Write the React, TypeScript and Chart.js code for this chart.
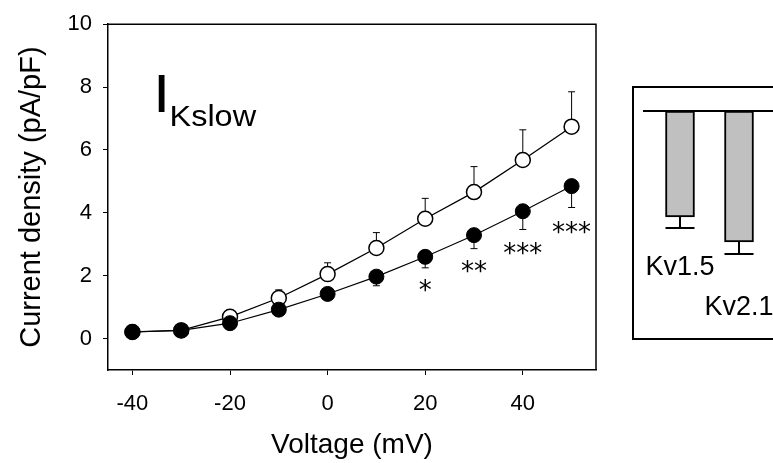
import React, { useEffect, useRef } from "react";
import { Chart, registerables } from "chart.js";

Chart.register(...registerables);

const FONT = "'Liberation Sans', Arial, Helvetica, sans-serif";

// ---- main I-V data ----
const voltages = [-40, -30, -20, -10, 0, 10, 20, 30, 40, 50];
const controlMean = [0.21, 0.26, 0.69, 1.29, 2.05, 2.88, 3.81, 4.66, 5.68, 6.74];
const controlSem = [0.02, 0.03, 0.05, 0.26, 0.36, 0.49, 0.65, 0.81, 0.96, 1.11];
const treatedMean = [0.21, 0.26, 0.49, 0.92, 1.42, 1.97, 2.6, 3.29, 4.05, 4.85];
const treatedSem = [0.02, 0.03, 0.05, 0.12, 0.15, 0.29, 0.35, 0.43, 0.58, 0.68];
const xTicks = [-40, -20, 0, 20, 40];
const yTicks = [0, 2, 4, 6, 8, 10];
const sigVoltages = [20, 30, 40, 50];
const sigMarks = ["*", "**", "***", "***"];
const sigLevels = [1.68, 2.28, 2.88, 3.53];

// ---- inset bar data ----
const insetLabels = ["Kv1.5", "Kv2.1"];
const insetPositions = [1, 2];
const insetRows = [0, 1];
const insetValues = [-0.53, -0.655];
const insetErr = [0.055, 0.06];

const errorBarPlugin = {
  id: "errorBars",
  beforeDatasetsDraw(chart: any) {
    const { ctx, scales } = chart;
    const x = scales.x;
    const y = scales.y;
    ctx.save();
    ctx.strokeStyle = "#000";
    ctx.lineWidth = 1;
    const draw = (means: number[], errs: number[], dir: number) => {
      for (let i = 0; i < voltages.length; i++) {
        const px = x.getPixelForValue(voltages[i]);
        const y0 = y.getPixelForValue(means[i]);
        const y1 = y.getPixelForValue(means[i] + dir * errs[i]);
        ctx.beginPath();
        ctx.moveTo(px, y0);
        ctx.lineTo(px, y1);
        ctx.moveTo(px - 3.5, y1);
        ctx.lineTo(px + 3.5, y1);
        ctx.stroke();
      }
    };
    draw(controlMean, controlSem, 1);
    draw(treatedMean, treatedSem, -1);
    ctx.restore();
  },
};

const framePlugin = {
  id: "frame",
  afterDraw(chart: any) {
    const { ctx, chartArea, scales } = chart;
    const { left, right, top, bottom } = chartArea;
    ctx.save();
    ctx.strokeStyle = "#000";
    ctx.lineWidth = 1.5;
    ctx.beginPath();
    ctx.moveTo(left, top);
    ctx.lineTo(right, top);
    ctx.lineTo(right, bottom);
    ctx.stroke();

    // significance asterisks
    ctx.fillStyle = "#000";
    ctx.font = `26px 'DejaVu Sans', sans-serif`;
    ctx.textAlign = "center";
    ctx.textBaseline = "alphabetic";
    for (let i = 0; i < sigMarks.length; i++) {
      const m = ctx.measureText(sigMarks[i]);
      const cx = scales.x.getPixelForValue(sigVoltages[i]);
      const cy = scales.y.getPixelForValue(sigLevels[i]);
      const off = (m.actualBoundingBoxAscent - m.actualBoundingBoxDescent) / 2;
      ctx.fillText(sigMarks[i], cx, cy + off);
    }

    // I_Kslow label
    ctx.textAlign = "left";
    ctx.font = `54px ${FONT}`;
    ctx.save();
    ctx.translate(left + 45, top + 88);
    ctx.scale(1.15, 1);
    ctx.fillText("I", 0, 0);
    ctx.restore();
    ctx.font = `29px ${FONT}`;
    ctx.save();
    ctx.translate(left + 61.5, top + 101.5);
    ctx.scale(1.12, 1);
    ctx.fillText("Kslow", 0, 0);
    ctx.restore();
    ctx.restore();
  },
};

const insetPlugin = {
  id: "insetDeco",
  afterDatasetsDraw(chart: any) {
    const { ctx, chartArea, scales } = chart;
    const x = scales.x;
    const y = scales.y;
    const meta = chart.getDatasetMeta(0);
    ctx.save();
    ctx.strokeStyle = "#000";
    ctx.lineWidth = 2;
    const y0 = y.getPixelForValue(0);
    ctx.beginPath();
    ctx.moveTo(chartArea.left, y0);
    ctx.lineTo(chartArea.right, y0);
    ctx.stroke();
    for (let i = 0; i < insetValues.length; i++) {
      const px = x.getPixelForValue(insetPositions[i]);
      const w = meta.data[i].width;
      const ya = y.getPixelForValue(insetValues[i]);
      const yb = y.getPixelForValue(insetValues[i] - insetErr[i]);
      ctx.beginPath();
      ctx.moveTo(px, ya);
      ctx.lineTo(px, yb);
      ctx.moveTo(px - w / 2, yb);
      ctx.lineTo(px + w / 2, yb);
      ctx.stroke();
    }
    ctx.restore();
  },
};

export default function App() {
  const mainRef = useRef<HTMLCanvasElement>(null);
  const insetRef = useRef<HTMLCanvasElement>(null);

  useEffect(() => {
    Chart.defaults.font.family = FONT;
    Chart.defaults.color = "#000";

    const main = new Chart(mainRef.current as HTMLCanvasElement, {
      type: "line",
      data: {
        datasets: [
          {
            label: "control",
            data: voltages.map((v, i) => ({ x: v, y: controlMean[i] })),
            borderColor: "#000",
            borderWidth: 1.3,
            pointBackgroundColor: "#fff",
            pointBorderColor: "#000",
            pointBorderWidth: 1.5,
            pointRadius: 7.5,
            tension: 0,
            order: 1,
          },
          {
            label: "treated",
            data: voltages.map((v, i) => ({ x: v, y: treatedMean[i] })),
            borderColor: "#000",
            borderWidth: 1.1,
            pointBackgroundColor: "#000",
            pointBorderColor: "#000",
            pointBorderWidth: 1,
            pointRadius: 7.5,
            tension: 0,
            order: 0,
          },
        ],
      },
      options: {
        responsive: false,
        animation: false,
        layout: { padding: { left: 0, top: 18, right: 177, bottom: 0 } },
        plugins: {
          legend: { display: false },
          tooltip: { enabled: false },
        },
        scales: {
          x: {
            type: "linear",
            min: -45,
            max: 55,
            afterBuildTicks: (s: any) => {
              s.ticks = xTicks.map((v) => ({ value: v }));
            },
            afterFit: (s: any) => {
              s.height = 93;
            },
            grid: {
              drawOnChartArea: false,
              drawTicks: true,
              tickLength: 5,
              color: "#000",
              lineWidth: 1,
            },
            border: { display: true, color: "#000", width: 1.5 },
            ticks: {
              font: { size: 22, family: FONT },
              color: "#000",
              padding: 16,
              maxRotation: 0,
              autoSkip: false,
            },
            title: {
              display: true,
              text: "Voltage (mV)",
              font: { size: 28, family: FONT },
              color: "#000",
              padding: { top: 0, bottom: 1 },
            },
          },
          y: {
            type: "linear",
            min: -1,
            max: 10,
            afterBuildTicks: (s: any) => {
              s.ticks = yTicks.map((v) => ({ value: v }));
            },
            afterFit: (s: any) => {
              s.width = 108;
            },
            grid: {
              drawOnChartArea: false,
              drawTicks: true,
              tickLength: 5,
              color: "#000",
              lineWidth: 1,
            },
            border: { display: true, color: "#000", width: 1.5 },
            ticks: {
              font: { size: 22, family: FONT },
              color: "#000",
              padding: 11,
              autoSkip: false,
            },
            title: {
              display: true,
              text: "Current density (pA/pF)",
              font: { size: 29, family: FONT },
              color: "#000",
              padding: { top: 14.5, bottom: 0 },
            },
          },
        },
      },
      plugins: [errorBarPlugin, framePlugin],
    });

    const inset = new Chart(insetRef.current as HTMLCanvasElement, {
      type: "bar",
      data: {
        datasets: [
          {
            data: insetPositions.map((p, i) => ({ x: p, y: insetValues[i] })),
            backgroundColor: "#c0c0c0",
            borderColor: "#000",
            borderWidth: 2,
            borderSkipped: false,
            barThickness: 29,
          },
        ],
      },
      options: {
        responsive: false,
        animation: false,
        layout: { padding: { left: 9, top: 3, right: 0, bottom: 0 } },
        plugins: {
          legend: { display: false },
          tooltip: { enabled: false },
        },
        scales: {
          x: {
            type: "linear",
            min: 0.373,
            max: 3.881,
            offset: false,
            afterBuildTicks: (s: any) => {
              s.ticks = insetPositions.map((v) => ({ value: v }));
            },
            afterFit: (s: any) => {
              s.height = 87;
            },
            grid: { display: false, drawTicks: false, offset: false },
            border: { display: false },
            ticks: {
              callback: (_v: any, i: number) =>
                insetRows[i] ? ["", insetLabels[i]] : insetLabels[i],
              font: { size: 27, family: FONT, lineHeight: 1.48 },
              color: "#000",
              padding: -3,
              maxRotation: 0,
              autoSkip: false,
            },
          },
          y: { display: false, min: -0.7, max: 0.1 },
        },
      },
      plugins: [insetPlugin],
    });

    return () => {
      main.destroy();
      inset.destroy();
    };
  }, []);

  return (
    <div
      style={{
        position: "fixed",
        left: 0,
        top: 0,
        width: 773,
        height: 463,
        overflow: "hidden",
        background: "#fff",
      }}
    >
      <canvas
        ref={mainRef}
        width={773}
        height={463}
        style={{ position: "absolute", left: 0, top: 0, width: 773, height: 463 }}
      />
      <div
        style={{
          position: "absolute",
          left: 632,
          top: 86,
          width: 220,
          height: 254,
          border: "2px solid #000",
          boxSizing: "border-box",
          background: "#fff",
        }}
      >
        <canvas
          ref={insetRef}
          width={216}
          height={250}
          style={{ display: "block", width: 216, height: 250 }}
        />
      </div>
    </div>
  );
}
